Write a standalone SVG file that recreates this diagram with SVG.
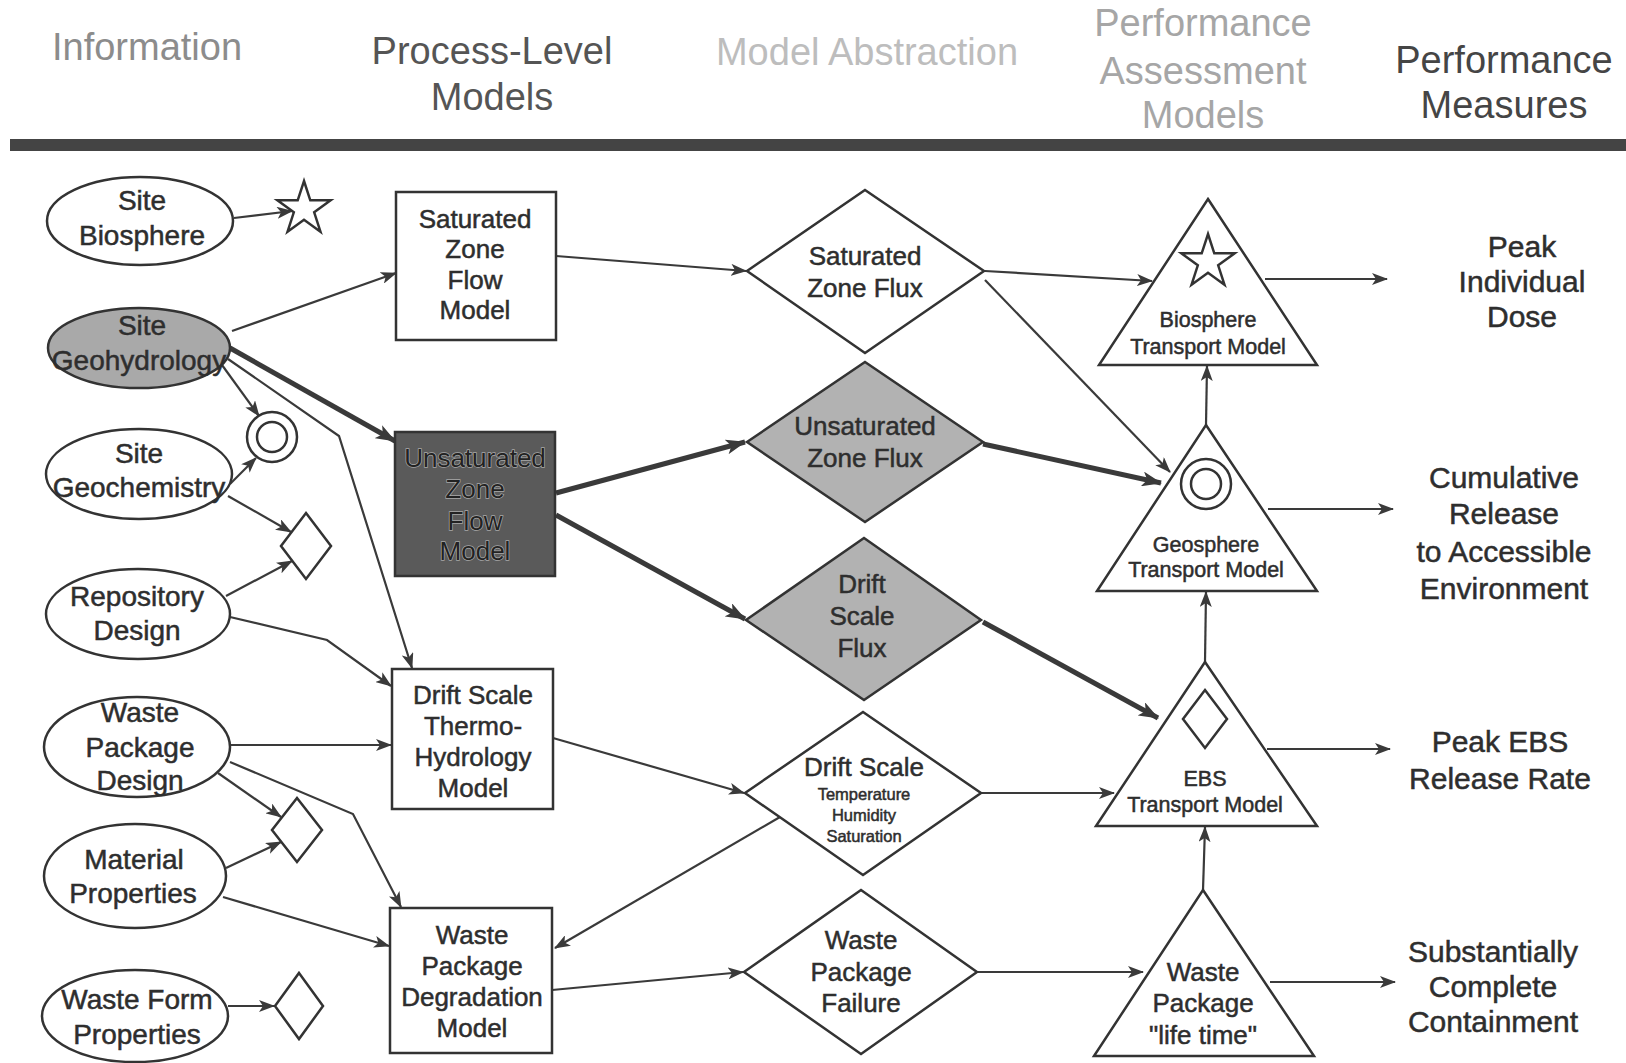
<svg xmlns="http://www.w3.org/2000/svg" width="1626" height="1063" viewBox="0 0 1626 1063">
<style>
text{font-family:"Liberation Sans",Arial,sans-serif;fill:#2e2e2e;text-anchor:middle}
.h{font-size:38px}
.n,.b,.t,.s,.m{stroke:#2e2e2e;stroke-width:0.5}
.n{font-size:28px}
.b{font-size:26px}
.t{font-size:21.5px}
.s{font-size:16.5px}
.m{font-size:30px}
.sh{fill:#fff;stroke:#333;stroke-width:2.5}
.g{fill:#b2b2b2}
.c{fill:none;stroke:#3a3a3a;stroke-width:2.2;marker-end:url(#ah)}
.k{stroke-width:5;marker-end:url(#ahk)}
.dk{fill:#222;stroke:#a8a8a8;stroke-width:1.4;paint-order:stroke}
</style>
<defs>
<marker id="ah" markerWidth="16" markerHeight="12" refX="15" refY="6" orient="auto" markerUnits="userSpaceOnUse"><path d="M0,0 L16,6 L0,12 L4,6 z" fill="#3a3a3a"/></marker>
<marker id="ahk" markerWidth="20" markerHeight="15" refX="19" refY="7.5" orient="auto" markerUnits="userSpaceOnUse"><path d="M0,0 L20,7.5 L0,15 L5,7.5 z" fill="#3a3a3a"/></marker>
<path id="star" d="M0,-28 L6.29,-8.66 L26.63,-8.65 L10.18,3.31 L16.46,22.65 L0,10.7 L-16.46,22.65 L-10.18,3.31 L-26.63,-8.65 L-6.29,-8.66 Z"/>
<g id="ring"><circle r="25"/><circle r="15"/></g>
</defs>
<rect width="1626" height="1063" fill="#fff"/>

<g id="headers">
<text class="h" x="147" y="60" style="fill:#8c8c8c">Information</text>
<text class="h" x="492" y="64" style="fill:#555">Process-Level</text>
<text class="h" x="492" y="110" style="fill:#555">Models</text>
<text class="h" x="867" y="65" style="fill:#bdbdbd">Model Abstraction</text>
<text class="h" x="1203" y="36" style="fill:#a6a6a6">Performance</text>
<text class="h" x="1203" y="84" style="fill:#a6a6a6">Assessment</text>
<text class="h" x="1203" y="128" style="fill:#a6a6a6">Models</text>
<text class="h" x="1504" y="73" style="fill:#454545">Performance</text>
<text class="h" x="1504" y="118" style="fill:#454545">Measures</text>
<rect x="10" y="139" width="1616" height="12" fill="#444"/>
</g>

<g id="connectors">
<path class="c" d="M234,218 L292,211"/>
<path class="c" d="M232,331 L396,273"/>
<path class="c k" d="M230,348 L395,441"/>
<path class="c" d="M222,365 L259,416"/>
<path class="c" d="M228,359 L339,436 L412,668"/>
<path class="c" d="M230,484 L256,458"/>
<path class="c" d="M228,496 L291,532"/>
<path class="c" d="M226,596 L292,561"/>
<path class="c" d="M230,617 L327,640 L391,686"/>
<path class="c" d="M230,745 L391,745"/>
<path class="c" d="M218,773 L281,817"/>
<path class="c" d="M230,762 L353,814 L401,907"/>
<path class="c" d="M226,868 L281,842"/>
<path class="c" d="M223,897 L389,946"/>
<path class="c" d="M228,1006 L274,1006"/>
<path class="c" d="M556,256 L746,271"/>
<path class="c k" d="M556,493 L745,442"/>
<path class="c k" d="M556,515 L745,619"/>
<path class="c" d="M553,738 L744,793"/>
<path class="c" d="M780,817 L555,948"/>
<path class="c" d="M552,990 L743,972"/>
<path class="c" d="M985,271 L1152,281"/>
<path class="c" d="M985,280 L1170,472"/>
<path class="c k" d="M983,444 L1161,483"/>
<path class="c k" d="M983,622 L1158,718"/>
<path class="c" d="M981,793 L1114,793"/>
<path class="c" d="M977,972 L1143,972"/>
<path class="c" d="M1206,425 L1207,366"/>
<path class="c" d="M1205,662 L1206,592"/>
<path class="c" d="M1203,890 L1205,827"/>
<path class="c" d="M1265,279 L1387,279"/>
<path class="c" d="M1268,509 L1393,509"/>
<path class="c" d="M1267,749 L1390,749"/>
<path class="c" d="M1270,982 L1395,982"/>
</g>

<g id="site-biosphere"><ellipse class="sh" cx="140" cy="221" rx="93" ry="44"/><text class="n" x="142" y="210">Site</text><text class="n" x="142" y="245">Biosphere</text></g>
<g id="site-geohydrology"><ellipse class="sh" cx="139" cy="348" rx="91" ry="40" style="fill:#a9a9a9"/><text class="n" x="142" y="335">Site</text><text class="n" x="139" y="370">Geohydrology</text></g>
<g id="site-geochemistry"><ellipse class="sh" cx="139" cy="474" rx="93" ry="45"/><text class="n" x="139" y="463">Site</text><text class="n" x="139" y="497">Geochemistry</text></g>
<g id="repository-design"><ellipse class="sh" cx="138" cy="614" rx="92" ry="45"/><text class="n" x="137" y="606">Repository</text><text class="n" x="137" y="640">Design</text></g>
<g id="waste-package-design"><ellipse class="sh" cx="137" cy="747" rx="93" ry="50"/><text class="n" x="140" y="722">Waste</text><text class="n" x="140" y="757">Package</text><text class="n" x="140" y="790">Design</text></g>
<g id="material-properties"><ellipse class="sh" cx="135" cy="876" rx="91" ry="52"/><text class="n" x="134" y="869">Material</text><text class="n" x="133" y="903">Properties</text></g>
<g id="waste-form-properties"><ellipse class="sh" cx="135" cy="1016" rx="93" ry="46"/><text class="n" x="137" y="1009">Waste Form</text><text class="n" x="137" y="1044">Properties</text></g>

<g id="sym-star"><use href="#star" x="304" y="209" class="sh"/></g>
<g id="sym-ring"><use href="#ring" x="272" y="437" class="sh"/></g>
<g id="sym-diamond1"><path class="sh" d="M306,513 L331,546 L306,579 L281,546 Z"/></g>
<g id="sym-diamond2"><path class="sh" d="M297,798 L322,830 L297,862 L272,830 Z"/></g>
<g id="sym-diamond3"><path class="sh" d="M299,973 L323,1006 L299,1039 L275,1006 Z"/></g>

<g id="sz-flow-model"><rect class="sh" x="396" y="192" width="160" height="148"/><text class="b" x="475" y="228">Saturated</text><text class="b" x="475" y="258">Zone</text><text class="b" x="475" y="289">Flow</text><text class="b" x="475" y="319">Model</text></g>
<g id="uz-flow-model"><rect class="sh" x="395" y="432" width="160" height="144" style="fill:#5a5a5a"/><text class="b dk" x="475" y="467">Unsaturated</text><text class="b dk" x="475" y="498">Zone</text><text class="b dk" x="475" y="530">Flow</text><text class="b dk" x="475" y="560">Model</text></g>
<g id="dsth-model"><rect class="sh" x="392" y="669" width="161" height="140"/><text class="b" x="473" y="704">Drift Scale</text><text class="b" x="473" y="735">Thermo-</text><text class="b" x="473" y="766">Hydrology</text><text class="b" x="473" y="797">Model</text></g>
<g id="wpd-model"><rect class="sh" x="390" y="908" width="162" height="145"/><text class="b" x="472" y="944">Waste</text><text class="b" x="472" y="975">Package</text><text class="b" x="472" y="1006">Degradation</text><text class="b" x="472" y="1037">Model</text></g>

<g id="sz-flux"><path class="sh" d="M865,190 L984,271 L865,353 L747,271 Z"/><text class="b" x="865" y="265">Saturated</text><text class="b" x="865" y="297">Zone Flux</text></g>
<g id="uz-flux"><path class="sh g" d="M865,362 L983,442 L865,522 L747,442 Z"/><text class="b" x="865" y="435">Unsaturated</text><text class="b" x="865" y="467">Zone Flux</text></g>
<g id="ds-flux"><path class="sh g" d="M864,538 L981,620 L864,700 L746,620 Z"/><text class="b" x="862" y="593">Drift</text><text class="b" x="862" y="625">Scale</text><text class="b" x="862" y="657">Flux</text></g>
<g id="ds-thermal"><path class="sh" d="M863,712 L981,793 L863,875 L745,793 Z"/><text class="b" x="864" y="776">Drift Scale</text><text class="s" x="864" y="800">Temperature</text><text class="s" x="864" y="821">Humidity</text><text class="s" x="864" y="842">Saturation</text></g>
<g id="wp-failure"><path class="sh" d="M861,890 L977,972 L861,1054 L744,972 Z"/><text class="b" x="861" y="949">Waste</text><text class="b" x="861" y="981">Package</text><text class="b" x="861" y="1012">Failure</text></g>

<g id="biosphere-tm"><path class="sh" d="M1208,199 L1317,365 L1099,365 Z"/><use href="#star" x="1208" y="262" class="sh"/><text class="t" x="1208" y="327">Biosphere</text><text class="t" x="1208" y="354">Transport Model</text></g>
<g id="geosphere-tm"><path class="sh" d="M1206,425 L1317,591 L1097,591 Z"/><use href="#ring" x="1206" y="484" class="sh"/><text class="t" x="1206" y="552">Geosphere</text><text class="t" x="1206" y="577">Transport Model</text></g>
<g id="ebs-tm"><path class="sh" d="M1205,662 L1317,826 L1096,826 Z"/><path class="sh" d="M1205,690 L1227,719 L1205,748 L1183,719 Z"/><text class="t" x="1205" y="786">EBS</text><text class="t" x="1205" y="812">Transport Model</text></g>
<g id="wp-lifetime"><path class="sh" d="M1203,890 L1314,1056 L1094,1056 Z"/><text class="b" x="1203" y="981">Waste</text><text class="b" x="1203" y="1012">Package</text><text class="b" x="1203" y="1044">"life time"</text></g>

<g id="measures">
<text class="m" x="1522" y="257">Peak</text><text class="m" x="1522" y="292">Individual</text><text class="m" x="1522" y="327">Dose</text>
<text class="m" x="1504" y="488">Cumulative</text><text class="m" x="1504" y="524">Release</text><text class="m" x="1504" y="562">to Accessible</text><text class="m" x="1504" y="599">Environment</text>
<text class="m" x="1500" y="752">Peak EBS</text><text class="m" x="1500" y="789">Release Rate</text>
<text class="m" x="1493" y="962">Substantially</text><text class="m" x="1493" y="997">Complete</text><text class="m" x="1493" y="1032">Containment</text>
</g>
</svg>
